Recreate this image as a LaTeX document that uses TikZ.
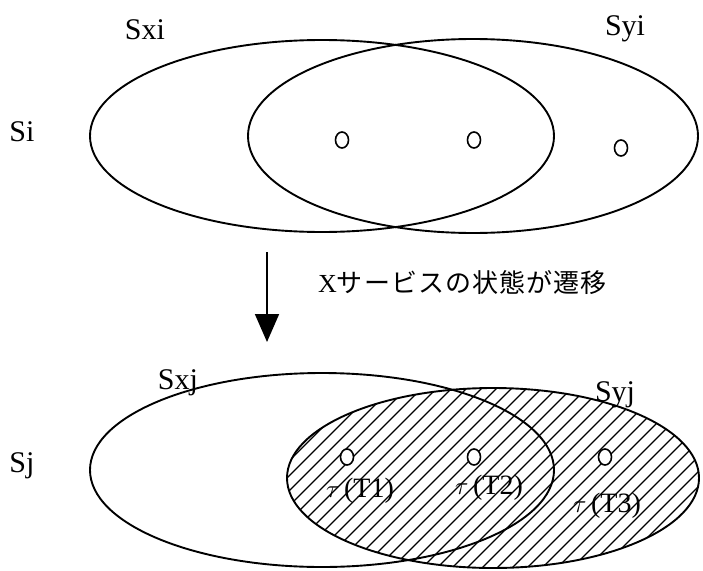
\documentclass[tikz,border=0pt]{standalone}
\usepackage{fontspec}
\setmainfont{Liberation Serif}
\newfontfamily\jpfont{Noto Sans CJK JP}
\usetikzlibrary{arrows.meta,shapes.geometric}
\begin{document}
\begin{tikzpicture}[x=1pt,y=-1pt,
  setline/.style={line width=1.9pt},
  pt/.style={ellipse,draw,line width=1.6pt,minimum width=13pt,minimum height=16pt,inner sep=0pt},
  lbl/.style={font=\fontsize{30}{32}\selectfont,inner sep=0pt},
  tlbl/.style={font=\fontsize{28}{30}\selectfont,inner sep=0pt}]
\useasboundingbox (0,0) rectangle (703,570);
% top
\draw[setline] (322,136) ellipse [x radius=232, y radius=96];
\draw[setline] (473,136) ellipse [x radius=225, y radius=97];
\node[pt] (p1) at (342,140) {};
\node[pt] (p2) at (474,140) {};
\node[pt] (p3) at (621,148) {};
\node[lbl] (sxi) at (145,30) {Sxi};
\node[lbl] (syi) at (625,29) {Syi};
\node[lbl] (si) at (22,132) {Si};
% arrow
\coordinate (a1) at (267,252);
\coordinate (a2) at (267,342);
\draw[line width=1.8pt,-{Triangle[length=28pt,width=24pt]}] (a1) -- (a2);
\node[font=\fontsize{26}{28}\selectfont,anchor=west,inner sep=0pt] (txt) at (318,283) {X{\jpfont\addfontfeature{LetterSpace=4}サービスの状態が遷移}};
% bottom
\begin{scope}
\clip (493,478) ellipse [x radius=206, y radius=90];
\foreach \k in {-40,...,60} {
  \draw[line width=1.1pt] (\k*15,600) -- ++(330,-330);
}
\end{scope}
\draw[setline] (322,470) ellipse [x radius=232, y radius=97];
\draw[setline] (493,478) ellipse [x radius=206, y radius=90];
\node[pt,fill=white] (q1) at (347,457) {};
\node[pt,fill=white] (q2) at (474,457) {};
\node[pt,fill=white] (q3) at (605,457) {};
\node[tlbl] (t1) at (360,491) {$\tau$\,(T1)};
\node[tlbl] (t2) at (489,488) {$\tau$\,(T2)};
\node[tlbl] (t3) at (607,506) {$\tau$\,(T3)};
\node[lbl] (sxj) at (178,383) {Sxj};
\node[lbl] (syj) at (615,395) {Syj};
\node[lbl] (sj) at (22,466) {Sj};
\end{tikzpicture}
\end{document}
